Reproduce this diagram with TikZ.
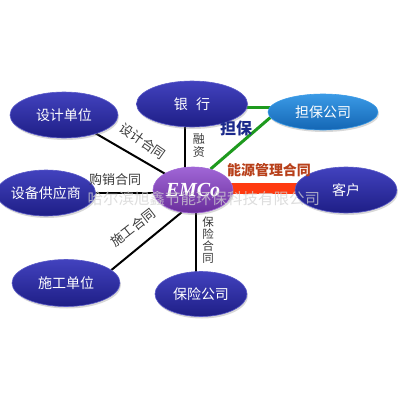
\documentclass[tikz,border=0pt]{standalone}
\usepackage{fontspec}
\setmainfont{Liberation Serif}
\newfontfamily\cjk{Noto Sans CJK SC}
\usetikzlibrary{shapes.geometric,shadows,backgrounds,calc}
\pgfdeclarelayer{canvasbg}
\pgfsetlayers{canvasbg,background,main}
\definecolor{eb1}{HTML}{4242BE}
\definecolor{eb2}{HTML}{1E1E86}
\definecolor{eb3}{HTML}{5A5AC8}
\definecolor{gb1}{HTML}{3A9AE6}
\definecolor{gb2}{HTML}{1466B4}
\definecolor{pb1}{HTML}{A066D6}
\definecolor{pb2}{HTML}{6A2E9C}
\definecolor{labgray}{HTML}{3A3A3A}
\definecolor{greenl}{HTML}{1E9A1E}
\definecolor{redbar}{HTML}{FF3A10}
\definecolor{guarblue}{HTML}{1C2A8C}
\definecolor{redbrown}{HTML}{B8401A}
\begin{document}
\begin{tikzpicture}[x=1pt,y=-1pt,
  ell/.style={ellipse, inner sep=0pt, text=white, font=\cjk\fontsize{14}{16}\selectfont,
    drop shadow={opacity=0.3, shadow xshift=1pt, shadow yshift=-2pt}},
  blueell/.style={ell, top color=eb1, bottom color=eb2, draw=eb3, line width=0.6pt},
  lblueell/.style={ell, top color=gb1, bottom color=gb2, draw=gb1, line width=0.6pt},
  purpell/.style={ell, top color=pb1, bottom color=pb2, draw=pb1, line width=0.6pt},
  conn/.style={draw=black, line width=2pt},
  greenline/.style={draw=greenl, line width=3pt},
  lab/.style={font=\cjk\fontsize{13}{14}\selectfont, text=labgray, inner sep=0pt},
  vlab/.style={font=\cjk\fontsize{12}{13}\selectfont, text=labgray, inner sep=0pt, align=center}
]
\begin{pgfonlayer}{canvasbg}
\fill[white] (0,0) rectangle (400,400);
\end{pgfonlayer}
\useasboundingbox (0,0) rectangle (400,400);

\node[blueell, minimum width=108pt, minimum height=46pt] (design) at (64,115) {设计单位};
\node[blueell, minimum width=111pt, minimum height=46pt] (bank) at (192,104) {银\hspace{0.6em}行};
\node[lblueell, minimum width=110pt, minimum height=36pt] (guar) at (323,112) {担保公司};
\node[purpell, minimum width=80pt, minimum height=46pt, font=\bfseries\itshape\fontsize{20}{22}\selectfont] (emco) at (193,190) {EMCo};
\node[blueell, minimum width=102pt, minimum height=46pt] (client) at (346,190) {客户};
\node[blueell, minimum width=80pt, minimum height=46pt] (supplier) at (46,193) {设备供应商};
\node[blueell, minimum width=108pt, minimum height=47pt] (construct) at (66,283) {施工单位};
\node[blueell, minimum width=92pt, minimum height=45pt] (insure) at (201,294) {保险公司};

\begin{scope}[on background layer]
  \draw[conn] (design.center) -- (emco.center);
  \draw[conn] ($(bank.center)+(-7,0)$) -- ($(emco.center)+(-8,0)$);
  \draw[conn] (supplier.center) -- ($(emco.center)+(0,3)$);
  \draw[conn] (construct.16) -- (emco.243);
  \draw[conn] ($(insure.center)+(-5,0)$) -- ($(emco.center)+(3,0)$);
  \draw[greenline] ($(bank.center)+(0,3)$) -- ($(guar.center)+(0,-5)$);
  \draw[greenline] (emco.50) -- (guar.186);
  \draw[draw=redbar, line width=11pt] ($(emco.center)+(0,-2)$) -- ($(client.center)+(0,-2)$);
\end{scope}

\node[lab, rotate=-35] (l1) at (143,141) {设计合同};
\node[lab] (l2) at (115,180) {购销合同};
\node[lab, rotate=38] (l3) at (133,228) {施工合同};
\node[vlab] (l4) at (199,145) {融\\资};
\node[vlab, font=\cjk\fontsize{11.5}{11.8}\selectfont] (l5) at (208,240) {保\\险\\合\\同};
\node[font=\cjk\bfseries\fontsize{16}{18}\selectfont, text=guarblue, inner sep=0pt] (l6) at (236,128) {担保};
\node[font=\cjk\bfseries\fontsize{14}{16}\selectfont, text=redbrown, inner sep=0pt] (l7) at (269,170) {能源管理合同};
\node[font=\cjk\fontsize{15.5}{17}\selectfont, text=gray!35, opacity=0.75, inner sep=0pt] (wm) at (204,199) {哈尔滨旭鑫节能环保科技有限公司};
\end{tikzpicture}
\end{document}
